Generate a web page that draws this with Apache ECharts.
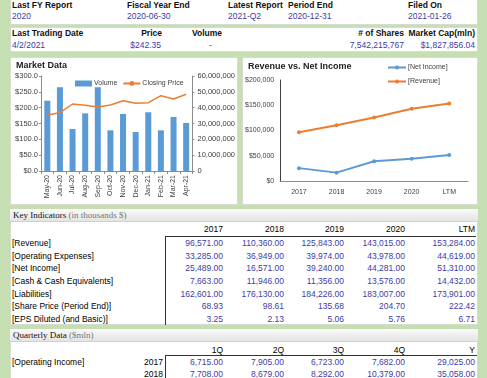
<!DOCTYPE html>
<html><head><meta charset="utf-8">
<script src="https://cdn.jsdelivr.net/npm/echarts@6/dist/echarts.min.js"></script>
<style>
html,body{margin:0;padding:0;width:487px;height:378px;overflow:hidden;background:#c5dfb3;font-family:"Liberation Sans",Arial,sans-serif;}
.p{position:absolute;background:#fff;border:1px solid #d6dccf;box-sizing:border-box;}
.t{position:absolute;white-space:nowrap;font-size:8.5px;line-height:10px;}
.b{font-weight:bold;color:#111;}
.v{color:#3c3ca6;}
.hd{position:absolute;left:0;right:0;height:13px;background:linear-gradient(#fafafa,#e4e4e4);border-bottom:1px solid #d0d0d0;font-family:"Liberation Serif","DejaVu Serif",serif;font-size:9px;line-height:13px;padding-left:3px;color:#111;}
.hd span{color:#777;}
.ln{position:absolute;background:#333;}
</style></head>
<body>
<div id="root"></div>
<script>
// ---- data ----
const fyLabels = ['Last FY Report','Fiscal Year End','Latest Report','Period End','Filed On'];
const fyValues = ['2020','2020-06-30','2021-Q2','2020-12-31','2021-01-26'];
const tradeLabels = ['Last Trading Date','Price','Volume','# of Shares','Market Cap(mln)'];
const tradeValues = ['4/2/2021','$242.35','-','7,542,215,767','$1,827,856.04'];

const months = ['May-20','Jun-20','Jul-20','Aug-20','Sep-20','Oct-20','Nov-20','Dec-20','Jan-21','Feb-21','Mar-21','Apr-21'];
const volume = [44400000,52900000,26500000,36400000,52900000,25700000,36000000,24600000,37100000,25700000,34100000,30300000];
const closingPrice = [176.8,184.0,211.6,207.4,202.0,208.4,222.0,213.7,215.7,237.8,227.4,242.35];

const years = ['2017','2018','2019','2020','LTM'];
const revenue = [96571,110360,125843,143015,153284];
const netIncome = [25489,16571,39240,44281,51310];

const indicatorNames = ['[Revenue]','[Operating Expenses]','[Net Income]','[Cash & Cash Equivalents]','[Liabilities]','[Share Price (Period End)]','[EPS Diluted (and Basic)]'];
const indicatorValues = [
  ['96,571.00','110,360.00','125,843.00','143,015.00','153,284.00'],
  ['33,285.00','36,949.00','39,974.00','43,978.00','44,619.00'],
  ['25,489.00','16,571.00','39,240.00','44,281.00','51,310.00'],
  ['7,663.00','11,946.00','11,356.00','13,576.00','14,432.00'],
  ['162,601.00','176,130.00','184,226.00','183,007.00','173,901.00'],
  ['68.93','98.61','135.68','204.70','222.42'],
  ['3.25','2.13','5.06','5.76','6.71']
];
const quarterCols = ['1Q','2Q','3Q','4Q','Y'];
const quarterYears = ['2017','2018'];
const quarterValues = [
  ['6,715.00','7,905.00','6,723.00','7,682.00','29,025.00'],
  ['7,708.00','8,679.00','8,292.00','10,379.00','35,058.00']
];

// ---- layout helpers ----
const root = document.getElementById('root');
function el(cls, style, html){const d=document.createElement('div');d.className=cls;Object.assign(d.style,style);if(html!==undefined)d.innerHTML=html;root.appendChild(d);return d;}
function txt(s,x,y,cls,right){const d=el('t '+cls,{top:(y-5)+'px'});d.textContent=s;if(right){d.style.right=(487-x)+'px';}else{d.style.left=x+'px';}return d;}

// panels
el('p',{left:'10px',top:'-1px',width:'468px',height:'26px'});
el('p',{left:'10px',top:'27px',width:'468px',height:'25px'});
el('p',{left:'10px',top:'57px',width:'228px',height:'148px'});
el('p',{left:'242px',top:'57px',width:'236px',height:'148px'});
el('p',{left:'10px',top:'209px',width:'468px',height:'116px'});
el('p',{left:'10px',top:'329px',width:'468px',height:'60px'});

// top info
const fyX=[12,127,228,288,408];
fyLabels.forEach((s,i)=>txt(s,fyX[i],5,'b'));
fyValues.forEach((s,i)=>txt(s,fyX[i],16,'v'));
// trading
txt(tradeLabels[0],12,33,'b'); txt(tradeValues[0],12,45,'v');
txt(tradeLabels[1],162,33,'b',true); txt(tradeValues[1],161,45,'v',true);
txt(tradeLabels[2],192,33,'b'); txt(tradeValues[2],209,45,'v');
txt(tradeLabels[3],404,33,'b',true); txt(tradeValues[3],404,45,'v',true);
txt(tradeLabels[4],475,33,'b',true); txt(tradeValues[4],475,45,'v',true);

// key indicators
el('hd',{top:'209px',left:'10px',width:'468px',boxSizing:'border-box'},'Key Indicators <span>(in thousands $)</span>');
const colR=[223,284,344,405,475];
years.forEach((s,i)=>txt(s,colR[i],229,'',true));
const rowH=12.67;
indicatorNames.forEach((s,r)=>{
  txt(s,12,243+r*rowH,'');
  indicatorValues[r].forEach((v,c)=>txt(v,colR[c],243+r*rowH,'v',true));
});
el('ln',{left:'165px',top:'236px',width:'311px',height:'1px'});
el('ln',{left:'165px',top:'236px',width:'1px',height:'89px'});

// quarterly
el('hd',{top:'329px',left:'10px',width:'468px',boxSizing:'border-box'},'Quarterly Data <span>($mln)</span>');
quarterCols.forEach((s,i)=>txt(s,colR[i],350,'',true));
txt('[Operating Income]',12,362,'');
quarterYears.forEach((y,r)=>{
  txt(y,163,362+r*12,'',true);
  quarterValues[r].forEach((v,c)=>txt(v,colR[c],362+r*12,'v',true));
});
el('ln',{left:'165px',top:'355px',width:'312px',height:'1px'});
el('ln',{left:'165px',top:'355px',width:'1px',height:'30px'});

// charts
const c1=el('',{position:'absolute',left:'10px',top:'57px',width:'228px',height:'148px'});
const c2=el('',{position:'absolute',left:'242px',top:'57px',width:'236px',height:'148px'});
const axisTxt={color:'#404040',fontSize:7.5,fontFamily:'Liberation Sans'};
const axLine={lineStyle:{color:'#8c8c8c',width:1}};
const ch1=echarts.init(c1);
ch1.setOption({
  animation:false,
  title:{text:'Market Data',left:1,top:-1,textStyle:{fontSize:9,fontWeight:'bold',color:'#222',fontFamily:'Liberation Sans'}},
  legend:{left:65,top:23,width:160,padding:0,itemGap:5,itemWidth:17,itemHeight:6,
    textStyle:{fontSize:7,color:'#404040',fontFamily:'Liberation Sans',padding:[0,0,0,-3]},
    data:[{name:'Volume',icon:'rect'},{name:'Closing Price'}]},
  grid:{left:31,right:44,top:19,bottom:34},
  xAxis:{type:'category',data:months,axisLine:axLine,axisTick:{show:true,length:3,lineStyle:{color:'#8c8c8c'}},
    axisLabel:Object.assign({rotate:90,margin:4,interval:0},axisTxt,{fontSize:7})},
  yAxis:[
    {type:'value',min:0,max:300,interval:50,splitLine:{show:false},axisLine:Object.assign({show:true},axLine),axisTick:{show:true,length:2},
      axisLabel:Object.assign({formatter:v=>'$'+v.toFixed(1),margin:3},axisTxt)},
    {type:'value',min:0,max:60000000,interval:10000000,splitLine:{show:false},axisLine:Object.assign({show:true},axLine),axisTick:{show:true,length:2},
      axisLabel:Object.assign({formatter:v=>v.toLocaleString('en-US'),margin:5},axisTxt)}
  ],
  series:[
    {name:'Volume',type:'bar',yAxisIndex:1,data:volume,barWidth:6,itemStyle:{color:'#5b9bd5'}},
    {name:'Closing Price',type:'line',yAxisIndex:0,data:closingPrice,showSymbol:false,symbol:'none',lineStyle:{color:'#ed7d31',width:1.5},itemStyle:{color:'#ed7d31'}}
  ]
});
const ch2=echarts.init(c2);
ch2.setOption({
  animation:false,
  title:{text:'Revenue vs. Net Income',left:1,top:0,textStyle:{fontSize:9,fontWeight:'bold',color:'#222',fontFamily:'Liberation Sans'}},
  legend:{orient:'vertical',left:145,top:7,padding:0,itemGap:7,itemWidth:18,itemHeight:5,textStyle:{fontSize:7,color:'#404040',fontFamily:'Liberation Sans',padding:[0,0,0,-3]},
    data:['[Net Income]','[Revenue]']},
  grid:{left:38,right:10,top:23,bottom:24},
  xAxis:{type:'category',data:years,axisLine:axLine,axisTick:{show:false},axisLabel:Object.assign({margin:8},axisTxt,{fontSize:7})},
  yAxis:{type:'value',min:0,max:200000,interval:50000,splitLine:{show:false},axisLine:{show:true,lineStyle:{color:'#404040',width:1}},axisTick:{show:false},
    axisLabel:Object.assign({formatter:v=>'$'+v.toLocaleString('en-US'),margin:6},axisTxt,{fontSize:7})},
  series:[
    {name:'[Net Income]',type:'line',data:netIncome,symbol:'circle',symbolSize:4,lineStyle:{color:'#5b9bd5',width:2},itemStyle:{color:'#5b9bd5'}},
    {name:'[Revenue]',type:'line',data:revenue,symbol:'circle',symbolSize:4,lineStyle:{color:'#ed7d31',width:2},itemStyle:{color:'#ed7d31'}}
  ]
});
</script>
</body></html>
